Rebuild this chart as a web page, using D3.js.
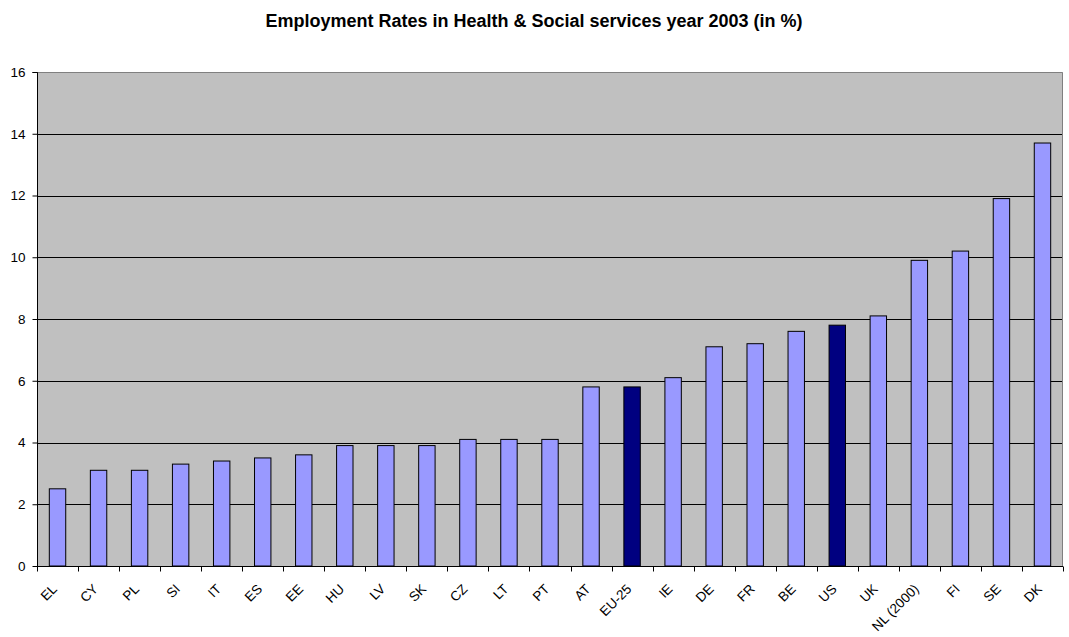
<!DOCTYPE html>
<html>
<head>
<meta charset="utf-8">
<script src="https://cdn.jsdelivr.net/npm/d3@7"></script>
<style>
  html, body { margin: 0; padding: 0; background: #fff; }
  svg { display: block; font-family: "Liberation Sans", Arial, sans-serif; }
</style>
</head>
<body>
<svg id="chart" width="1069" height="637"></svg>
<script>
// Employment rates in health & social services, 2003 (% of total employment)
const countries = ["EL", "CY", "PL", "SI", "IT", "ES", "EE", "HU", "LV", "SK", "CZ", "LT", "PT",
                   "AT", "EU-25", "IE", "DE", "FR", "BE", "US", "UK", "NL (2000)", "FI", "SE", "DK"];
const rates = [2.5, 3.1, 3.1, 3.3, 3.4, 3.5, 3.6, 3.9, 3.9, 3.9, 4.1, 4.1, 4.1,
               5.8, 5.8, 6.1, 7.1, 7.2, 7.6, 7.8, 8.1, 9.9, 10.2, 11.9, 13.7];
const highlighted = ["EU-25", "US"];
const yTicks = [0, 2, 4, 6, 8, 10, 12, 14, 16];
const chartTitle = "Employment Rates in Health & Social services year 2003 (in %)";

const svg = d3.select("#chart");
const margin = { left: 37, right: 6, top: 72, bottom: 71 };
const W = 1069, H = 637;
const plotW = W - margin.left - margin.right;
const plotH = H - margin.top - margin.bottom;

const x = d3.scaleBand().domain(countries).range([0, plotW]).paddingInner(0.6).paddingOuter(0.3);
const xEdges = d3.scaleLinear().domain([0, countries.length]).range([0, plotW]);
const y = d3.scaleLinear().domain([0, 16]).range([plotH, 0]);

svg.append("text")
  .attr("x", 534).attr("y", 27)
  .attr("text-anchor", "middle")
  .attr("font-size", 18).attr("font-weight", "bold")
  .text(chartTitle);

const g = svg.append("g").attr("transform", `translate(${margin.left},${margin.top})`);

// plot background
g.append("rect").attr("width", plotW).attr("height", plotH).attr("fill", "#C0C0C0");

// horizontal gridlines
g.append("g").selectAll("line").data(yTicks.filter(t => t > 0 && t < 16)).join("line")
  .attr("x1", 0).attr("x2", plotW)
  .attr("y1", d => Math.round(y(d)) + 0.5).attr("y2", d => Math.round(y(d)) + 0.5)
  .attr("stroke", "#000").attr("stroke-width", 1);

// plot frame (top and right)
g.append("path")
  .attr("d", `M0.5,0.5H${plotW - 0.5}V${plotH}`)
  .attr("fill", "none").attr("stroke", "#808080").attr("stroke-width", 1);

// bars
g.append("g").selectAll("rect").data(countries).join("rect")
  .attr("x", d => x(d)).attr("width", x.bandwidth())
  .attr("y", (d, i) => y(rates[i])).attr("height", (d, i) => plotH - y(rates[i]))
  .attr("fill", d => highlighted.includes(d) ? "#000080" : "#9999FF")
  .attr("stroke", "#000").attr("stroke-width", 1);

// y axis
const yAxis = g.append("g").attr("transform", "translate(0.5,0)")
  .call(d3.axisLeft(y).tickValues(yTicks).tickSize(5).tickPadding(7).tickFormat(d3.format("d")));
yAxis.select(".domain").attr("stroke", "#000").attr("d", `M-5,0.5H0V${plotH}`);
yAxis.selectAll(".tick line").attr("stroke", "#000");
yAxis.selectAll("text").attr("font-size", 13.5).attr("fill", "#000")
  .attr("font-family", "\"Liberation Sans\", Arial, sans-serif");

// x axis: ticks at category boundaries
const xAxisG = g.append("g").attr("transform", `translate(0,${plotH + 0.5})`);
xAxisG.append("line").attr("x1", 0).attr("x2", plotW).attr("stroke", "#000");
xAxisG.selectAll("line.tk").data(d3.range(countries.length + 1)).join("line")
  .attr("class", "tk")
  .attr("x1", d => Math.round(xEdges(d)) + 0.5).attr("x2", d => Math.round(xEdges(d)) + 0.5)
  .attr("y1", 0).attr("y2", 5).attr("stroke", "#000");
xAxisG.selectAll("text").data(countries).join("text")
  .attr("transform", d => `translate(${x(d) + x.bandwidth() / 2 - 3},${20}) rotate(-45)`)
  .attr("text-anchor", "end")
  .attr("dy", "0.35em")
  .attr("font-size", 13.5)
  .text(d => d);
</script>
</body>
</html>
